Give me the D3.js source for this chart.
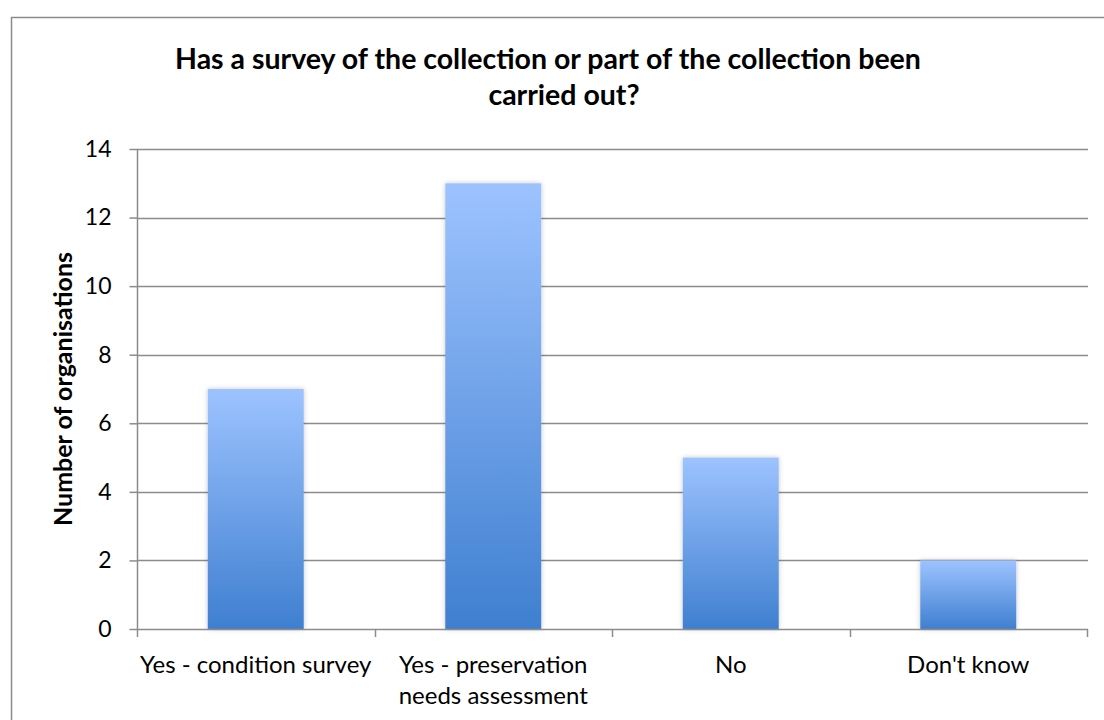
<!DOCTYPE html>
<html>
<head>
<meta charset="utf-8">
<script src="https://cdn.jsdelivr.net/npm/d3@7"></script>
<style>
  html, body { margin: 0; padding: 0; background: #fff; }
  svg { display: block; }
  text { font-family: Lato, "Open Sans", "Liberation Sans", sans-serif; fill: #000; }
</style>
</head>
<body>
<svg id="chart" width="1104" height="720"></svg>
<script>
// Survey responses
const categories = [
  ["Yes - condition survey"],
  ["Yes - preservation", "needs assessment"],
  ["No"],
  ["Don't know"]
];
const counts = [7, 13, 5, 2];
const yTicks = [0, 2, 4, 6, 8, 10, 12, 14];
const titleLines = [
  "Has a survey of the collection or part of the collection been",
  "carried out?"
];
const yTitle = "Number of organisations";

const svg = d3.select("#chart");
const W = 1104, H = 720;
const plot = { left: 137, right: 1087, top: 149, bottom: 629 };

// Outer chart frame
svg.append("rect")
  .attr("x", 11.5).attr("y", 17.5)
  .attr("width", W + 20).attr("height", H + 20)
  .attr("fill", "#fff").attr("stroke", "#8c8c8c").attr("stroke-width", 1.5);

// Bar fill gradient, light at top to deeper blue at base
const defs = svg.append("defs");
const grad = defs.append("linearGradient")
  .attr("id", "barFill").attr("x1", 0).attr("y1", 0).attr("x2", 0).attr("y2", 1);
grad.append("stop").attr("offset", "0%").attr("stop-color", "#9dc3ff");
grad.append("stop").attr("offset", "100%").attr("stop-color", "#3f7fd0");

const shadow = defs.append("filter").attr("id", "barShadow")
  .attr("x", "-20%").attr("y", "-20%").attr("width", "140%").attr("height", "140%");
shadow.append("feDropShadow")
  .attr("dx", 0).attr("dy", 0).attr("stdDeviation", 2.5)
  .attr("flood-color", "#000").attr("flood-opacity", 0.22);

const x = d3.scaleBand()
  .domain(d3.range(categories.length))
  .range([plot.left, plot.right])
  .paddingInner(0.596).paddingOuter(0.298);

const y = d3.scaleLinear().domain([0, 14]).range([plot.bottom, plot.top]);

// Horizontal gridlines
svg.append("g")
  .selectAll("line").data(yTicks.filter(d => d > 0)).join("line")
  .attr("x1", plot.left).attr("x2", plot.right + 1)
  .attr("y1", d => Math.round(y(d)) + 0.5).attr("y2", d => Math.round(y(d)) + 0.5)
  .attr("stroke", "#8c8c8c").attr("stroke-width", 1.5);

// Bars
svg.append("g")
  .selectAll("rect").data(counts).join("rect")
  .attr("x", (d, i) => x(i))
  .attr("y", d => y(d))
  .attr("width", x.bandwidth())
  .attr("height", d => y(0) - y(d))
  .attr("fill", "url(#barFill)")
  .attr("filter", "url(#barShadow)");

// Y axis
const yAxis = svg.append("g")
  .attr("transform", `translate(${plot.left + 0.5},0)`)
  .call(d3.axisLeft(y).tickValues(yTicks).tickSize(8).tickPadding(18));
yAxis.attr("font-size", null).attr("font-family", null);
yAxis.select(".domain").attr("stroke", "#8c8c8c").attr("stroke-width", 1.5)
  .attr("d", `M0,${plot.top}V${plot.bottom}`);
yAxis.selectAll(".tick line").attr("stroke", "#8c8c8c").attr("stroke-width", 1.5);
yAxis.selectAll(".tick text")
  .style("font-size", "23px")
  .attr("fill", "#000");

// X axis with ticks at category boundaries
const bounds = d3.range(categories.length + 1).map(i => plot.left + i * (plot.right - plot.left) / categories.length);
const xg = svg.append("g");
xg.append("line")
  .attr("x1", plot.left).attr("x2", plot.right + 1)
  .attr("y1", plot.bottom + 0.5).attr("y2", plot.bottom + 0.5)
  .attr("stroke", "#8c8c8c").attr("stroke-width", 1.5);
xg.selectAll("line.tk").data(bounds).join("line").attr("class", "tk")
  .attr("x1", d => Math.round(d) + 0.5).attr("x2", d => Math.round(d) + 0.5)
  .attr("y1", plot.bottom).attr("y2", plot.bottom + 8)
  .attr("stroke", "#8c8c8c").attr("stroke-width", 1.5);

xg.selectAll("text.cat").data(categories).join("text").attr("class", "cat")
  .attr("text-anchor", "middle")
  .style("font-size", "24px")
  .each(function(lines, i) {
    const t = d3.select(this);
    lines.forEach((ln, j) => {
      t.append("tspan")
        .attr("x", x(i) + x.bandwidth() / 2)
        .attr("y", 673 + j * 31)
        .text(ln);
    });
  });

// Y axis title
svg.append("text")
  .attr("transform", `translate(72,${(plot.top + plot.bottom) / 2}) rotate(-90)`)
  .attr("text-anchor", "middle")
  .style("font-size", "25px").style("font-weight", "bold")
  .text(yTitle);

// Chart title
const titleX = [548, 564];
svg.append("text")
  .attr("text-anchor", "middle")
  .style("font-size", "28.5px").style("font-weight", "bold")
  .selectAll("tspan").data(titleLines).join("tspan")
  .attr("x", (d, i) => titleX[i])
  .attr("y", (d, i) => 69 + i * 36)
  .text(d => d);
</script>
</body>
</html>
